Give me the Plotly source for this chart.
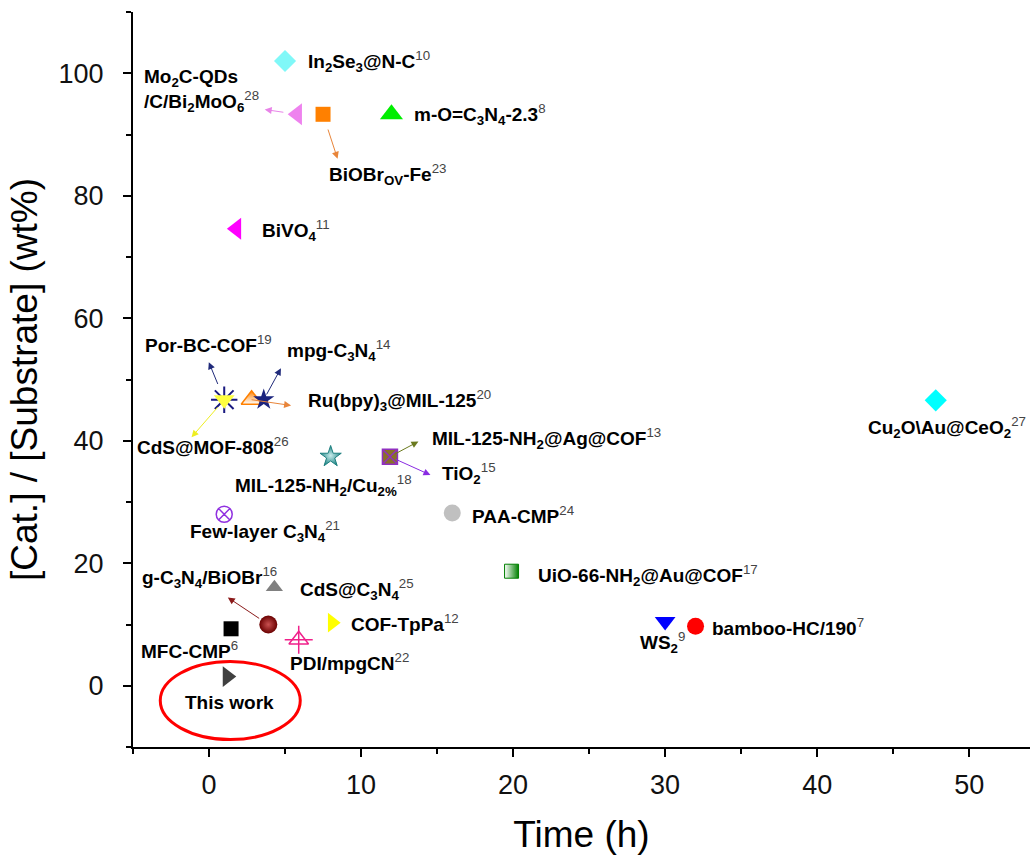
import plotly.graph_objects as go

# ---------------- data ----------------
materials = ["In2Se3@N-C", "Mo2C-QDs/C/Bi2MoO6", "BiOBrOV-Fe", "m-O=C3N4-2.3", "BiVO4",
             "Por-BC-COF", "CdS@MOF-808", "Ru(bpy)3@MIL-125", "mpg-C3N4", "MIL-125-NH2/Cu2%",
             "MIL-125-NH2@Ag@COF", "TiO2", "Few-layer C3N4", "PAA-CMP", "UiO-66-NH2@Au@COF",
             "g-C3N4/BiOBr", "CdS@C3N4", "MFC-CMP", "PDI/mpgCN", "COF-TpPa", "WS2",
             "bamboo-HC/190", "Cu2O\\Au@CeO2", "This work"]
refs = ["10", "28", "23", "8", "11", "19", "26", "20", "14", "18", "13", "15", "21", "24", "17",
        "16", "25", "6", "22", "12", "9", "7", "27", ""]
time_h = [5, 5.8, 7.5, 12, 1.8, 1, 1, 2.8, 3.6, 8, 11.9, 11.9, 1, 16, 19.9,
          3.9, 4.3, 1.45, 5.9, 8.1, 30, 32, 47.8, 1.2]
cat_wt = [102, 93.3, 93.3, 93.3, 74.6, 46.7, 46.7, 46.7, 46.7, 37.4, 37.4, 37.4, 28, 28.2, 18.7,
          10, 16.1, 9.3, 7.5, 10.3, 10.5, 9.7, 46.6, 1.5]
label_html = ["In<sub>2</sub>Se<sub>3</sub>@N-C",
              "Mo<sub>2</sub>C-QDs<br>/C/Bi<sub>2</sub>MoO<sub>6</sub>",
              "BiOBr<sub>OV</sub>-Fe",
              "m-O=C<sub>3</sub>N<sub>4</sub>-2.3",
              "BiVO<sub>4</sub>",
              "Por-BC-COF",
              "CdS@MOF-808",
              "Ru(bpy)<sub>3</sub>@MIL-125",
              "mpg-C<sub>3</sub>N<sub>4</sub>",
              "MIL-125-NH<sub>2</sub>/Cu<sub>2%</sub>",
              "MIL-125-NH<sub>2</sub>@Ag@COF",
              "TiO<sub>2</sub>",
              "Few-layer C<sub>3</sub>N<sub>4</sub>",
              "PAA-CMP",
              "UiO-66-NH<sub>2</sub>@Au@COF",
              "g-C<sub>3</sub>N<sub>4</sub>/BiOBr",
              "CdS@C<sub>3</sub>N<sub>4</sub>",
              "MFC-CMP",
              "PDI/mpgCN",
              "COF-TpPa",
              "WS<sub>2</sub>",
              "bamboo-HC/190",
              "Cu<sub>2</sub>O\\Au@CeO<sub>2</sub>",
              "This work"]
x_ticks = [0, 10, 20, 30, 40, 50]
y_ticks = [0, 20, 40, 60, 80, 100]

# ---------------- styles ----------------
# marker layers: (symbol, size, fill, line color, line width, gradient)
marker_style = {
    "In2Se3@N-C": [("diamond", 17, "#80F8F8", None, 0, None)],
    "Mo2C-QDs/C/Bi2MoO6": [("triangle-left", 19, "#EE82EE", None, 0, None)],
    "BiOBrOV-Fe": [("square", 15, "#FF8000", None, 0, None)],
    "m-O=C3N4-2.3": [("triangle-up", 20, "#00EE00", None, 0, None)],
    "BiVO4": [("triangle-left", 19, "#FF00FF", None, 0, None)],
    "Por-BC-COF": [("asterisk-open", 22, "#1A1A80", "#1A1A80", 2, None)],
    "CdS@MOF-808": [("triangle-down", 18, "#FFFF40", None, 0, None)],
    "Ru(bpy)3@MIL-125": [("triangle-up", 18, "#FF8000", "#FF8000", 1.5, ("vertical", "#FFFFFF"))],
    "mpg-C3N4": [("star", 16, "#1A237E", None, 0, None)],
    "MIL-125-NH2/Cu2%": [("star", 16, "#1F8585", "#1F8080", 1, ("radial", "#C8ECEC"))],
    "MIL-125-NH2@Ag@COF": [("square", 15, "#8A7028", None, 0, None)],
    "TiO2": [("square-x-open", 15, "#9030C0", "#9030C0", 1.5, None)],
    "Few-layer C3N4": [("circle-x-open", 16, "#9030E0", "#9030E0", 1.5, None)],
    "PAA-CMP": [("circle", 17, "#C0C0C0", None, 0, None)],
    "UiO-66-NH2@Au@COF": [("square", 14, "#FFFFFF", "#008000", 1, ("horizontal", "#008000"))],
    "g-C3N4/BiOBr": [("circle", 18, "#6A0000", None, 0, ("radial", "#C85050"))],
    "CdS@C3N4": [("triangle-up", 15, "#808080", None, 0, None)],
    "MFC-CMP": [("square", 15, "#000000", None, 0, None)],
    "PDI/mpgCN": [("triangle-up-open", 17, "#F0208A", "#F0208A", 1.5, None),
                  ("cross-thin-open", 20, "#F0208A", "#F0208A", 1.5, None)],
    "COF-TpPa": [("triangle-right", 17, "#FFFF00", None, 0, None)],
    "WS2": [("triangle-down", 18, "#0000FF", None, 0, None)],
    "bamboo-HC/190": [("circle", 17, "#FF0000", None, 0, None)],
    "Cu2O\\Au@CeO2": [("diamond", 17, "#00FFFF", None, 0, None)],
    "This work": [("triangle-right", 18, "#404040", None, 0, None)],
}
# label placement: (xanchor, xshift px, yshift px)
label_style = {
    "In2Se3@N-C": ("left", 21, 0),
    "Mo2C-QDs/C/Bi2MoO6": ("right", -36, 24),
    "BiOBrOV-Fe": ("left", 4, -60),
    "m-O=C3N4-2.3": ("left", 21, 0),
    "BiVO4": ("left", 24, -2),
    "Por-BC-COF": ("center", -16, 56),
    "CdS@MOF-808": ("center", -11, -46),
    "Ru(bpy)3@MIL-125": ("left", 54, -1),
    "mpg-C3N4": ("left", 21, 49),
    "MIL-125-NH2/Cu2%": ("center", -7, -29),
    "MIL-125-NH2@Ag@COF": ("left", 40, 18),
    "TiO2": ("left", 50, -17),
    "Few-layer C3N4": ("left", -36, -17),
    "PAA-CMP": ("left", 18, -2),
    "UiO-66-NH2@Au@COF": ("left", 24, -4),
    "g-C3N4/BiOBr": ("left", -128, 47),
    "CdS@C3N4": ("left", 24, -2),
    "MFC-CMP": ("right", 9, -21),
    "PDI/mpgCN": ("left", -11, -22),
    "COF-TpPa": ("left", 17, 0),
    "WS2": ("center", -3, -21),
    "bamboo-HC/190": ("left", 14, -1),
    "Cu2O\\Au@CeO2": ("left", -70, -27),
    "This work": ("center", 2, -26),
}
# arrows: (ax px, ay px, standoff px, color)
arrow_style = {
    "Mo2C-QDs/C/Bi2MoO6": (-34, -5, 14, "#E884E8"),
    "BiOBrOV-Fe": (15, 46, 16, "#E8853A"),
    "Por-BC-COF": (-16, -39, 17, "#1F2A7A"),
    "CdS@MOF-808": (-34, 39, 10, "#EEEE20"),
    "Ru(bpy)3@MIL-125": (41, 6, 0, "#E8853A"),
    "mpg-C3N4": (18, -33, 6, "#1F2A7A"),
    "MIL-125-NH2@Ag@COF": (30, -16, 6, "#6B7A1F"),
    "TiO2": (42, 19, 6, "#8A2BE2"),
    "g-C3N4/BiOBr": (-42, -28, 11, "#8B1A1A"),
}

FONT = "Arial, Liberation Sans, sans-serif"

fig = go.Figure()
annotations = []

# arrows first so markers sit on top
for name, x, y in zip(materials, time_h, cat_wt):
    if name in arrow_style:
        ax, ay, so, col = arrow_style[name]
        annotations.append(dict(x=x, y=y, xref="x", yref="y", ax=ax, ay=ay,
                                axref="pixel", ayref="pixel", text="", showarrow=True,
                                arrowside="start", startarrowhead=2, startarrowsize=1.4,
                                arrowwidth=1, arrowcolor=col, standoff=so))

for name, x, y in zip(materials, time_h, cat_wt):
    for sym, size, fill, lc, lw, grad in marker_style[name]:
        marker = dict(symbol=sym, size=size, color=fill,
                      line=dict(color=lc if lc else fill, width=lw))
        if grad:
            marker["gradient"] = dict(type=grad[0], color=grad[1])
        fig.add_trace(go.Scatter(x=[x], y=[y], mode="markers", marker=marker,
                                 hoverinfo="skip", showlegend=False, cliponaxis=False))

for name, ref, lab, x, y in zip(materials, refs, label_html, time_h, cat_wt):
    xa, xs, ys = label_style[name]
    txt = "<b>" + lab + "</b>"
    if ref:
        txt += "<sup><span style='color:#444444'>" + ref + "</span></sup>"
    annotations.append(dict(x=x, y=y, xref="x", yref="y", text=txt, showarrow=False,
                            xanchor=xa, yanchor="middle", xshift=xs, yshift=ys,
                            align="left", font=dict(family=FONT, size=19, color="#000000")))

# red ellipse around "This work"
fig.add_shape(type="circle", xref="x", yref="y", xsizemode="pixel", ysizemode="pixel",
              xanchor=time_h[-1], yanchor=cat_wt[-1], x0=-67, x1=73, y0=-63, y1=15,
              line=dict(color="#FF0000", width=3))

fig.update_layout(
    width=1030, height=860,
    margin=dict(l=133, r=0, t=12, b=113, autoexpand=False),
    plot_bgcolor="white", paper_bgcolor="white",
    annotations=annotations,
    font=dict(family=FONT, color="#000000"),
    xaxis=dict(range=[-5, 54], tickvals=x_ticks, ticks="outside", ticklen=8, tickwidth=1.5,
               tickcolor="black", showline=True, linecolor="black", linewidth=2,
               showgrid=False, zeroline=False, mirror=False, automargin=False,
               ticklabelstandoff=5,
               tickfont=dict(family=FONT, size=27, color="#111111"),
               minor=dict(dtick=5, tick0=0, ticks="outside", ticklen=5, tickwidth=1.5,
                          tickcolor="black", showgrid=False),
               title=dict(text="Time (h)", font=dict(family=FONT, size=37), standoff=22)),
    yaxis=dict(range=[-10, 110], tickvals=y_ticks, ticks="outside", ticklen=8, tickwidth=1.5,
               tickcolor="black", showline=True, linecolor="black", linewidth=2,
               showgrid=False, zeroline=False, mirror=False, ticklabelstandoff=14,
               automargin=False,
               tickfont=dict(family=FONT, size=27, color="#111111"),
               minor=dict(dtick=10, tick0=0, ticks="outside", ticklen=5, tickwidth=1.5,
                          tickcolor="black", showgrid=False),
               title=dict(text="[Cat.] / [Substrate] (wt%)", font=dict(family=FONT, size=37),
                          standoff=10)),
)

fig.write_html("out.html", config={"displayModeBar": False},
               post_script="document.body.style.margin='0';")
